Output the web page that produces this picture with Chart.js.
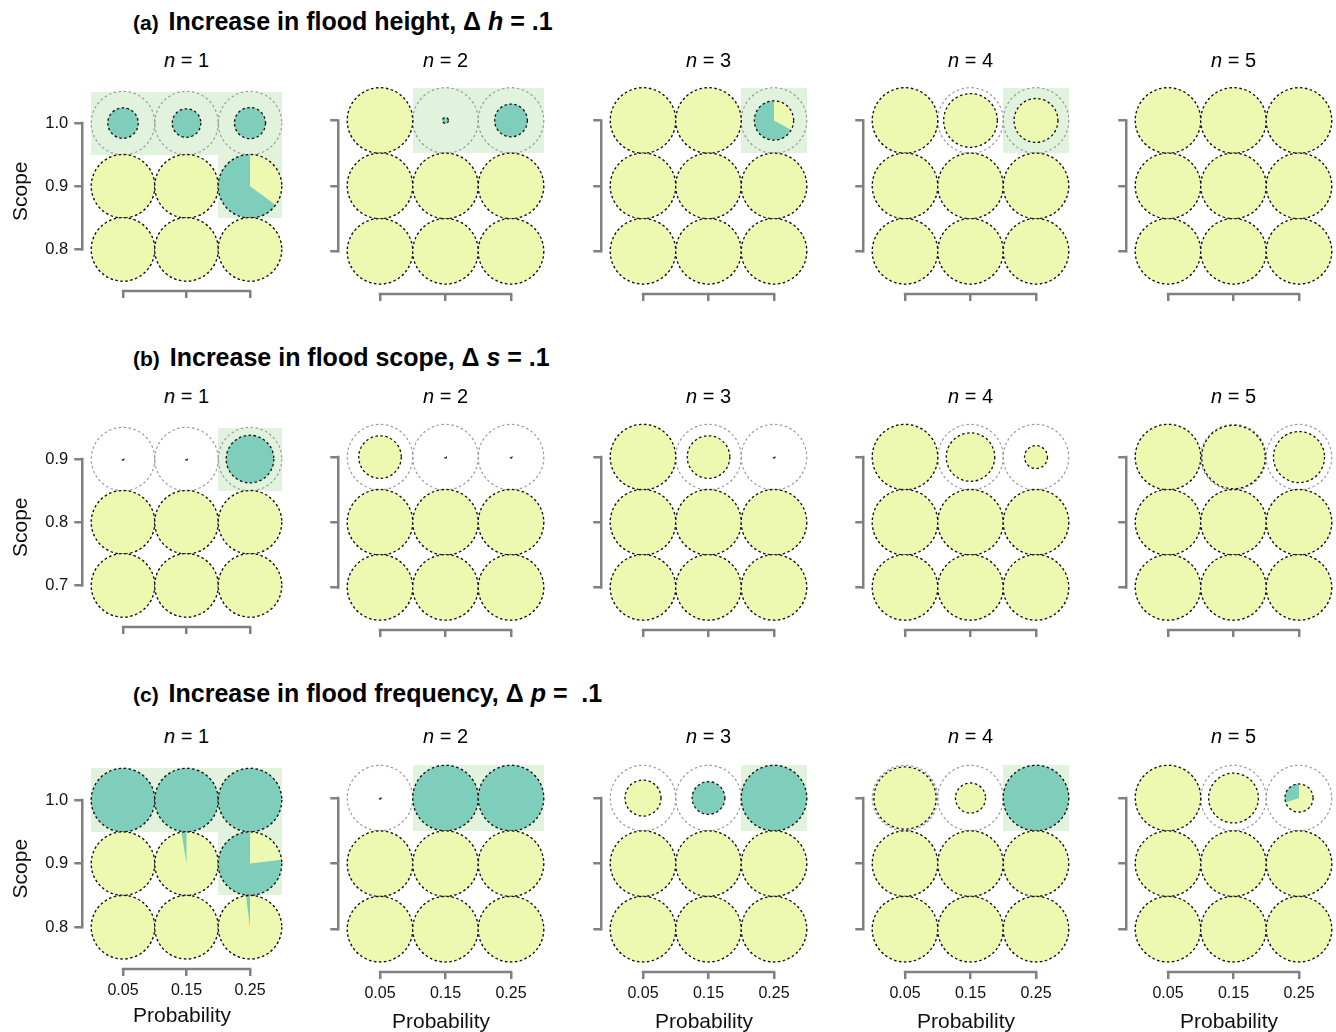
<!DOCTYPE html>
<html>
<head>
<meta charset="utf-8">
<script src="https://cdn.jsdelivr.net/npm/chart.js@4.4.0/dist/chart.umd.min.js"></script>
<style>
  html, body { margin: 0; padding: 0; background: #fff; overflow: hidden; }
  #page { position: relative; width: 1336px; height: 1032px; overflow: hidden; font-family: "Liberation Sans", Arial, sans-serif; color: #000; }
  #page canvas { position: absolute; }
  .rowTitle { position: absolute; font-weight: bold; font-size: 25px; white-space: nowrap; line-height: 1; }
  .rowTitle span { font-size: 21px; margin-right: 3px; }
  .panelTitle { position: absolute; font-size: 20px; white-space: nowrap; line-height: 1; transform: translate(-50%, -50%); }
</style>
</head>
<body>
<div id="page"></div>
<script>
// categories / ticks
const probabilities = [0.05, 0.15, 0.25];
const probLabels = ['0.05', '0.15', '0.25'];
const scopeA = [1.0, 0.9, 0.8];
const scopeB = [0.9, 0.8, 0.7];
const scopeC = [1.0, 0.9, 0.8];
const nValues = [1, 2, 3, 4, 5];

// cells go top row first (highest scope), left to right (probability)
// size = radius relative to full circle, teal = share of the teal wedge
const sizeA = [
  [0.48, 0.45, 0.49, 1, 1, 1, 1, 1, 1],
  [1, 0.09, 0.5, 1, 1, 1, 1, 1, 1],
  [1, 1, 0.6, 1, 1, 1, 1, 1, 1],
  [1, 0.82, 0.67, 1, 1, 1, 1, 1, 1],
  [1, 1, 1, 1, 1, 1, 1, 1, 1]
];
const tealA = [
  [1, 1, 1, 0, 0, 0.65, 0, 0, 0],
  [0, 1, 1, 0, 0, 0, 0, 0, 0],
  [0, 0, 0.67, 0, 0, 0, 0, 0, 0],
  [0, 0, 0, 0, 0, 0, 0, 0, 0],
  [0, 0, 0, 0, 0, 0, 0, 0, 0]
];
const highlightA = [
  [1, 1, 1, 0, 0, 1, 0, 0, 0],
  [0, 1, 1, 0, 0, 0, 0, 0, 0],
  [0, 0, 1, 0, 0, 0, 0, 0, 0],
  [0, 0, 1, 0, 0, 0, 0, 0, 0],
  [0, 0, 0, 0, 0, 0, 0, 0, 0]
];

const sizeB = [
  [0.03, 0.03, 0.75, 1, 1, 1, 1, 1, 1],
  [0.65, 0.03, 0.03, 1, 1, 1, 1, 1, 1],
  [1, 0.65, 0.03, 1, 1, 1, 1, 1, 1],
  [1, 0.74, 0.35, 1, 1, 1, 1, 1, 1],
  [1, 0.97, 0.78, 1, 1, 1, 1, 1, 1]
];
const tealB = [
  [0, 0, 1, 0, 0, 0, 0, 0, 0],
  [0, 0, 0, 0, 0, 0, 0, 0, 0],
  [0, 0, 0, 0, 0, 0, 0, 0, 0],
  [0, 0, 0, 0, 0, 0, 0, 0, 0],
  [0, 0, 0, 0, 0, 0, 0, 0, 0]
];
const highlightB = [
  [0, 0, 1, 0, 0, 0, 0, 0, 0],
  [0, 0, 0, 0, 0, 0, 0, 0, 0],
  [0, 0, 0, 0, 0, 0, 0, 0, 0],
  [0, 0, 0, 0, 0, 0, 0, 0, 0],
  [0, 0, 0, 0, 0, 0, 0, 0, 0]
];

const sizeC = [
  [1, 1, 1, 1, 1, 1, 1, 1, 1],
  [0.03, 1, 1, 1, 1, 1, 1, 1, 1],
  [0.55, 0.5, 1, 1, 1, 1, 1, 1, 1],
  [0.95, 0.46, 1, 1, 1, 1, 1, 1, 1],
  [1, 0.76, 0.43, 1, 1, 1, 1, 1, 1]
];
const tealC = [
  [1, 1, 1, 0, 0.025, 0.77, 0, 0, 0.02],
  [0, 1, 1, 0, 0, 0, 0, 0, 0],
  [0, 1, 1, 0, 0, 0, 0, 0, 0],
  [0, 0, 1, 0, 0, 0, 0, 0, 0],
  [0, 0, 0.3, 0, 0, 0, 0, 0, 0]
];
const highlightC = [
  [1, 1, 1, 0, 0, 1, 0, 0, 0],
  [0, 1, 1, 0, 0, 0, 0, 0, 0],
  [0, 0, 1, 0, 0, 0, 0, 0, 0],
  [0, 0, 1, 0, 0, 0, 0, 0, 0],
  [0, 0, 0, 0, 0, 0, 0, 0, 0]
];

const rowTitles = [
  '<span>(a)</span> Increase in flood height, Δ <i>h</i> = .1',
  '<span>(b)</span> Increase in flood scope, Δ <i>s</i> = .1',
  '<span>(c)</span> Increase in flood frequency, Δ <i>p</i> = &nbsp;.1'
];

const YELLOW = '#edf8b1';
const TEAL = '#7fcdbb';
const HIGHLIGHT = '#e1f3dc';
const AXIS = '#808080';

// layout of the 3 x 5 panels (pixels)
const colX0 = [123, 380, 643, 905, 1168];
const rowLayout = [
  { y0First: 123, syFirst: 63, y0: 120.5, sy: 65.5, titleY: 9, nY: 60 },
  { y0First: 459, syFirst: 63, y0: 457, sy: 65, titleY: 345, nY: 396 },
  { y0First: 800, syFirst: 63.5, y0: 798, sy: 65.5, titleY: 681, nY: 736 }
];
const rowData = [
  { scopes: scopeA, size: sizeA, teal: tealA, hl: highlightA },
  { scopes: scopeB, size: sizeB, teal: tealB, hl: highlightB },
  { scopes: scopeC, size: sizeC, teal: tealC, hl: highlightC }
];

const page = document.getElementById('page');

// pies, reference rings and highlight boxes drawn at the scale positions
const pieCells = {
  id: 'pieCells',
  beforeDatasetsDraw(chart) {
    const ds = chart.data.datasets[0];
    const meta = chart.getDatasetMeta(0);
    const xs = chart.scales.x, ys = chart.scales.y;
    const R = (xs.getPixelForValue(0.1) - xs.getPixelForValue(0)) / 2;
    const ctx = chart.ctx;
    ctx.save();

    ds.data.forEach((v, i) => {
      if (!ds.highlight[i]) return;
      const x1 = Math.round(xs.getPixelForValue(v.x - 0.05));
      const x2 = Math.round(xs.getPixelForValue(v.x + 0.05));
      const y1 = Math.round(ys.getPixelForValue(v.y + 0.05));
      const y2 = Math.round(ys.getPixelForValue(v.y - 0.05));
      ctx.fillStyle = HIGHLIGHT;
      ctx.fillRect(x1, y1, x2 - x1, y2 - y1);
    });

    ctx.setLineDash([2.5, 2.5]);
    ctx.lineWidth = 1.2;
    ctx.strokeStyle = '#9a9a9a';
    meta.data.forEach(pt => {
      ctx.beginPath();
      ctx.arc(pt.x, pt.y, R, 0, Math.PI * 2);
      ctx.stroke();
    });

    meta.data.forEach((pt, i) => {
      const r = R * ds.sizes[i];
      const t = ds.teal[i];
      ctx.setLineDash([]);
      ctx.beginPath();
      ctx.arc(pt.x, pt.y, r, 0, Math.PI * 2);
      ctx.fillStyle = t >= 1 ? TEAL : YELLOW;
      ctx.fill();
      if (t > 0 && t < 1) {
        ctx.beginPath();
        ctx.moveTo(pt.x, pt.y);
        ctx.arc(pt.x, pt.y, r, -Math.PI / 2, -Math.PI / 2 - t * Math.PI * 2, true);
        ctx.closePath();
        ctx.fillStyle = TEAL;
        ctx.fill();
      }
      ctx.setLineDash([2.5, 2.5]);
      ctx.lineWidth = 1.3;
      ctx.strokeStyle = '#111';
      ctx.beginPath();
      ctx.arc(pt.x, pt.y, r, 0, Math.PI * 2);
      ctx.stroke();
    });
    ctx.restore();
  },
  afterDraw(chart) {
    // trimmed spines between first and last tick
    const xs = chart.scales.x, ys = chart.scales.y;
    const ctx = chart.ctx;
    const a = chart.chartArea;
    ctx.save();
    ctx.strokeStyle = AXIS;
    ctx.lineWidth = 2.5;
    ctx.lineCap = 'square';
    ctx.beginPath();
    ctx.moveTo(xs.getPixelForValue(probabilities[0]), a.bottom);
    ctx.lineTo(xs.getPixelForValue(probabilities[2]), a.bottom);
    const sc = chart.data.datasets[0].scopes;
    ctx.moveTo(a.left, ys.getPixelForValue(sc[0]));
    ctx.lineTo(a.left, ys.getPixelForValue(sc[2]));
    ctx.stroke();
    ctx.restore();
  }
};

function makePanel(row, col) {
  const first = col === 0;
  const g = rowLayout[row];
  const d = rowData[row];
  const x0 = colX0[col];
  const sx = first ? 63.5 : 65.5;
  const y0 = first ? g.y0First : g.y0;
  const sy = first ? g.syFirst : g.sy;
  const gapX = 9, gapY = 10;
  const left = x0 - sx / 2 - gapX;
  const right = x0 + 2.5 * sx;
  const top = y0 - sy / 2;
  const bottom = y0 + 2.5 * sy + gapY;
  const axisW = 80;
  const axisH = row === 2 ? (first ? 58 : 61) : 16;
  const cLeft = Math.round(left - axisW), cTop = Math.round(top - 18);
  const cw = Math.round(right + 4 - cLeft), ch = Math.round(bottom + axisH - cTop);

  const canvas = document.createElement('canvas');
  canvas.width = cw;
  canvas.height = ch;
  canvas.style.left = cLeft + 'px';
  canvas.style.top = cTop + 'px';
  canvas.style.width = cw + 'px';
  canvas.style.height = ch + 'px';
  page.appendChild(canvas);

  const scopes = d.scopes;
  const points = [];
  scopes.forEach(s => probabilities.forEach(p => points.push({ x: p, y: s })));

  const padL = left - axisW - cLeft;
  const padT = top - cTop;
  const showY = first;
  const showX = row === 2;

  new Chart(canvas, {
    type: 'scatter',
    data: {
      datasets: [{
        data: points,
        sizes: d.size[col],
        teal: d.teal[col],
        highlight: d.hl[col],
        scopes: scopes,
        pointRadius: 0,
        pointHoverRadius: 0
      }]
    },
    options: {
      responsive: false,
      animation: false,
      events: [],
      layout: { padding: { left: padL, top: padT, right: cw - (right - cLeft), bottom: 0 } },
      plugins: { legend: { display: false }, tooltip: { enabled: false } },
      scales: {
        x: {
          type: 'linear',
          min: -gapX / sx * 0.1,
          max: 0.3,
          afterBuildTicks: s => { s.ticks = probabilities.map(v => ({ value: v })); },
          afterFit: s => { s.height = axisH; },
          grid: { drawOnChartArea: false, drawTicks: true, tickLength: 7, color: AXIS, lineWidth: 2.5 },
          border: { display: false },
          ticks: {
            autoSkip: false, maxRotation: 0, minRotation: 0, padding: 5,
            color: '#111', font: { family: 'Liberation Sans', size: 16 },
            callback: (v, i) => showX ? probLabels[i] : ''
          },
          title: {
            display: showX, text: 'Probability', color: '#111',
            font: { family: 'Liberation Sans', size: 21, lineHeight: 1 },
            padding: { top: 0, bottom: 0 }
          }
        },
        y: {
          type: 'linear',
          min: scopes[2] - 0.05 - gapY / sy * 0.1,
          max: scopes[0] + 0.05,
          afterBuildTicks: s => { s.ticks = scopes.map(v => ({ value: v })); },
          afterFit: s => { s.width = axisW; },
          grid: { drawOnChartArea: false, drawTicks: true, tickLength: 8, color: AXIS, lineWidth: 2.5 },
          border: { display: false },
          ticks: {
            autoSkip: false, padding: 6,
            color: '#111', font: { family: 'Liberation Sans', size: 16.5 },
            callback: (v, i) => showY ? scopes[i].toFixed(1) : ''
          },
          title: {
            display: showY, text: 'Scope', color: '#111',
            font: { family: 'Liberation Sans', size: 21, lineHeight: 1 },
            padding: { top: 8, bottom: 0 }
          }
        }
      }
    },
    plugins: [pieCells]
  });

  const nt = document.createElement('div');
  nt.className = 'panelTitle';
  nt.innerHTML = '<i>n</i> = ' + nValues[col];
  nt.style.left = (x0 + sx) + 'px';
  nt.style.top = g.nY + 'px';
  page.appendChild(nt);
}

rowTitles.forEach((t, r) => {
  const el = document.createElement('div');
  el.className = 'rowTitle';
  el.innerHTML = t;
  el.style.left = '133px';
  el.style.top = rowLayout[r].titleY + 'px';
  page.appendChild(el);
});

for (let r = 0; r < 3; r++) {
  for (let c = 0; c < 5; c++) makePanel(r, c);
}
</script>
</body>
</html>
